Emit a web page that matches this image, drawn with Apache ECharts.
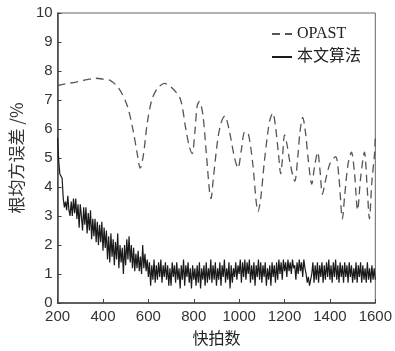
<!DOCTYPE html>
<html>
<head>
<meta charset="utf-8">
<script src="https://cdn.jsdelivr.net/npm/echarts@6/dist/echarts.min.js"></script>
<style>html,body{margin:0;padding:0;background:#fff;}#c{width:395px;height:351px;}</style>
</head>
<body>
<div id="c"></div>
<script>
// OPAST curve: [snapshots, RMSE %]
const opastX = [200,230,280,330,367,400,433,470,507,534,552,564,578,595,615,640,672,700,740,765,780,793,805,815,825,840,855,870,876,885,905,920,937,955,980,995,1010,1025,1040,1060,1075,1083,1095,1110,1125,1135,1148,1160,1175,1183,1190,1200,1210,1225,1245,1258,1268,1280,1292,1305,1320,1332,1346,1356,1367,1380,1400,1425,1440,1455,1465,1480,1495,1508,1522,1535,1552,1564,1574,1585,1596,1600];
const opastY = [7.5,7.55,7.62,7.7,7.75,7.72,7.67,7.4,6.8,5.9,5.1,4.65,5.1,6.2,7.0,7.4,7.57,7.45,7.05,6.0,5.4,5.15,5.9,6.8,6.95,6.5,5.2,3.8,3.6,4.2,5.6,6.2,6.45,6.0,5.0,4.65,5.3,5.9,5.85,4.8,3.5,3.15,3.6,4.8,5.8,6.3,6.55,6.1,5.0,4.45,4.9,5.8,5.5,4.8,4.2,5.0,5.9,6.4,5.9,4.9,4.1,4.7,5.2,4.6,3.75,4.2,4.8,5.05,4.3,2.9,3.7,4.8,5.2,4.5,3.2,4.3,5.2,4.0,2.9,4.2,5.1,5.7];

// Proposed algorithm: snapshots 200..1600 step 5
const algStart = 200, algStep = 5;
const algY = [
5.7,4.9,4.45,4.4,4.3,3.6,3.3,3.5,3.2,3.7,
3.2,3.0,3.5,3.0,3.6,3.1,3.6,2.9,3.4,2.6,
3.4,3.0,2.5,3.3,2.7,3.3,2.4,3.1,2.5,3.2,
2.2,2.9,2.3,2.9,2.1,2.8,2.0,2.7,2.1,2.8,
1.8,2.6,1.9,2.5,1.5,2.3,1.4,2.4,1.6,2.2,
1.3,2.1,1.5,2.4,1.2,2.0,1.4,1.9,1.0,2.0,
1.3,2.2,1.5,2.3,1.4,2.0,1.2,1.9,1.1,1.7,
1.2,1.8,1.1,1.6,1.0,2.0,1.2,1.7,1.1,1.5,
0.9,1.4,0.6,1.3,0.8,1.5,0.7,1.3,0.8,1.4,
0.9,1.5,0.7,1.3,0.9,1.4,0.8,1.3,0.6,1.2,
0.6,1.4,0.9,1.3,0.7,1.4,0.8,1.2,0.5,1.3,
0.8,1.5,0.6,1.3,0.9,1.4,0.7,1.2,0.5,1.3,
0.8,1.2,0.6,1.3,0.7,1.4,0.5,1.2,0.8,1.3,
0.6,1.4,0.7,1.2,0.8,1.5,0.7,1.3,0.8,1.4,
0.6,1.2,0.8,1.4,0.6,1.3,0.9,1.5,0.7,1.2,
0.8,1.4,0.5,1.3,0.7,1.2,0.9,1.4,0.8,1.3,
1.0,1.5,0.7,1.4,0.9,1.5,0.8,1.4,1.0,1.5,
0.7,1.3,0.8,1.4,0.6,1.3,0.9,1.5,0.8,1.4,
0.7,1.3,0.9,1.4,0.6,1.2,0.8,1.3,0.6,1.4,
0.9,1.3,0.7,1.4,0.8,1.5,1.0,1.4,0.8,1.5,
1.1,1.4,0.9,1.5,1.1,1.4,1.0,1.5,1.2,1.3,
0.8,1.4,1.0,1.5,1.1,1.4,0.9,1.5,1.2,1.0,
0.7,0.9,0.6,0.8,1.0,1.4,0.7,1.3,0.8,1.4,
0.7,1.3,0.9,1.4,0.7,1.3,0.8,1.4,0.9,1.5,
0.8,1.3,0.7,1.4,0.9,1.5,0.8,1.3,0.7,1.4,
0.9,1.3,0.7,1.4,0.9,1.3,0.7,1.4,0.9,1.3,
0.7,1.2,0.8,1.4,0.7,1.3,0.9,1.4,0.7,1.3,
0.8,1.2,0.7,1.4,0.8,1.2,0.7,1.3,0.8,1.2,
0.8];

const xTicks = [200,400,600,800,1000,1200,1400,1600];
const yTicks = [0,1,2,3,4,5,6,7,8,9,10];

const opastData = opastX.map((x, i) => [x, opastY[i]]);
const algData = algY.map((y, i) => [algStart + i * algStep, y]);

const chart = echarts.init(document.getElementById('c'), null, {renderer: 'canvas'});
chart.setOption({
  animation: false,
  backgroundColor: '#fff',
  grid: {left: 57, top: 13, width: 319, height: 301, show: true, borderColor: '#666', borderWidth: 1, backgroundColor: 'transparent'},
  legend: {
    orient: 'vertical', left: 266, top: 21, itemWidth: 20, itemHeight: 10, itemGap: 7,
    itemStyle: {opacity: 0, borderWidth: 0},
    textStyle: {fontFamily: '"Liberation Serif", "Noto Sans CJK SC", serif', fontSize: 16, color: '#222'},
    data: ['OPAST', '本文算法']
  },
  xAxis: {
    type: 'value', min: 200, max: 1600, interval: 200,
    axisLine: {lineStyle: {color: '#444', width: 1.5}},
    axisTick: {inside: true, length: 4, lineStyle: {color: '#444'}},
    splitLine: {show: false},
    axisLabel: {color: '#333', fontSize: 15, fontFamily: '"Liberation Sans", Arial, sans-serif', margin: 6,
      formatter: v => xTicks.indexOf(v) >= 0 ? String(v) : ''},
    name: '快拍数', nameLocation: 'middle', nameGap: 27,
    nameTextStyle: {color: '#222', fontSize: 16, fontFamily: '"Noto Sans CJK SC", serif'}
  },
  yAxis: {
    type: 'value', min: 0, max: 10, interval: 1,
    axisLine: {show: true, lineStyle: {color: '#444', width: 1.5}},
    axisTick: {show: true, inside: true, length: 4, lineStyle: {color: '#444'}},
    splitLine: {show: false},
    axisLabel: {color: '#333', fontSize: 15, fontFamily: '"Liberation Sans", Arial, sans-serif', margin: 5,
      formatter: v => yTicks.indexOf(v) >= 0 ? String(v) : ''},
    name: '根均方误差 /%', nameLocation: 'middle', nameGap: 30, nameRotate: 90,
    nameTextStyle: {color: '#333', fontSize: 17, fontFamily: '"Noto Sans CJK SC", sans-serif'}
  },
  series: [
    {
      name: 'OPAST', type: 'line', data: opastData, symbol: 'none', smooth: 0.3,
      lineStyle: {color: '#555', width: 1.3, type: [8, 5]},
      itemStyle: {color: '#555'}
    },
    {
      name: '本文算法', type: 'line', data: algData, symbol: 'none',
      lineStyle: {color: '#1a1a1a', width: 1.2},
      itemStyle: {color: '#1a1a1a'}
    }
  ]
});
</script>
</body>
</html>
